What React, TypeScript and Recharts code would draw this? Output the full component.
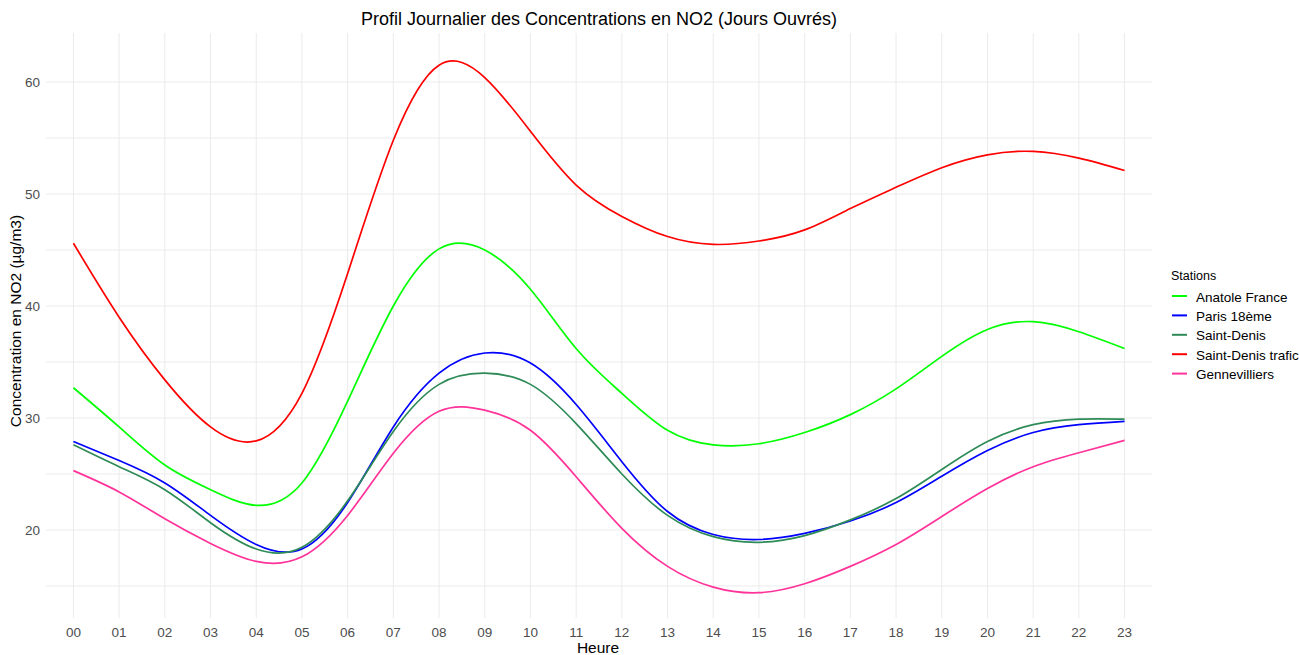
import React from "react";
import { LineChart, Line, XAxis, YAxis, CartesianGrid } from "recharts";

const hourLabels = ["00","01","02","03","04","05","06","07","08","09","10","11","12","13","14","15","16","17","18","19","20","21","22","23"];
const anatoleFrance = [32.7, 29.2, 25.8, 23.6, 22.2, 24.2, 31.5, 40.0, 45.1, 45.0, 41.5, 36.2, 32.2, 28.9, 27.6, 27.7, 28.7, 30.3, 32.6, 35.5, 37.9, 38.6, 37.7, 36.2];
const paris18 = [27.9, 26.2, 24.2, 21.3, 18.7, 18.3, 22.45, 29.2, 34.0, 35.8, 34.9, 31.2, 26.1, 21.65, 19.6, 19.15, 19.7, 20.8, 22.45, 24.8, 27.1, 28.7, 29.4, 29.7];
const saintDenis = [27.6, 25.65, 23.6, 20.65, 18.3, 18.45, 22.6, 28.8, 33.0, 34.0, 33.0, 29.5, 25.0, 21.3, 19.4, 18.9, 19.5, 20.9, 22.8, 25.4, 27.9, 29.4, 29.9, 29.9];
const saintDenisTrafic = [45.6, 39.0, 33.4, 29.2, 27.95, 32.2, 42.9, 54.8, 61.5, 60.4, 55.6, 50.8, 48.0, 46.2, 45.5, 45.8, 46.8, 48.7, 50.6, 52.35, 53.5, 53.8, 53.2, 52.1];
const gennevilliers = [25.3, 23.4, 21.0, 18.8, 17.2, 17.6, 21.3, 26.85, 30.6, 30.7, 28.9, 24.75, 20.15, 16.75, 14.9, 14.4, 15.2, 16.75, 18.7, 21.2, 23.7, 25.65, 26.9, 28.0];

const yTicks = [20, 30, 40, 50, 60];
const yGrid = [15, 20, 25, 30, 35, 40, 45, 50, 55, 60];

const series = [
  { key: "anatole", name: "Anatole France", color: "#00FF00", values: anatoleFrance },
  { key: "paris", name: "Paris 18ème", color: "#0000FF", values: paris18 },
  { key: "sd", name: "Saint-Denis", color: "#2E8B57", values: saintDenis },
  { key: "sdt", name: "Saint-Denis trafic", color: "#FF0000", values: saintDenisTrafic },
  { key: "genn", name: "Gennevilliers", color: "#FF3399", values: gennevilliers },
];

const data = hourLabels.map((_, i) => {
  const row: Record<string, number> = { hour: i };
  series.forEach((s) => { row[s.key] = s.values[i]; });
  return row;
});

const FONT = "'Liberation Sans', Arial, sans-serif";

export default function App() {
  return (
    <div style={{ position: "absolute", left: 0, top: 0, width: 1299, height: 655, background: "#fff", fontFamily: FONT }}>
      <LineChart width={1299} height={655} data={data} margin={{ top: 33, right: 147, bottom: 0, left: 0 }}>
        <CartesianGrid stroke="#EBEBEB" strokeWidth={1} horizontalValues={yGrid} verticalValues={hourLabels.map((_, i) => i)} />
        <XAxis
          dataKey="hour"
          type="number"
          domain={[-0.6, 23.6]}
          ticks={hourLabels.map((_, i) => i)}
          tickFormatter={(v: number) => hourLabels[v]}
          allowDataOverflow
          height={37}
          axisLine={false}
          tickLine={false}
          tickSize={0}
          tickMargin={9}
          interval={0}
          tick={{ fill: "#4D4D4D", fontSize: 13.5, fontFamily: FONT }}
        />
        <YAxis
          type="number"
          domain={[12.14, 64.375]}
          ticks={yTicks}
          allowDataOverflow
          width={46}
          axisLine={false}
          tickLine={false}
          tickSize={0}
          tickMargin={6}
          interval={0}
          tick={{ fill: "#4D4D4D", fontSize: 13.5, fontFamily: FONT }}
        />
        {series.map((s) => (
          <Line
            key={s.key}
            dataKey={s.key}
            name={s.name}
            type="natural"
            stroke={s.color}
            strokeWidth={1.7}
            dot={false}
            activeDot={false}
            isAnimationActive={false}
          />
        ))}
      </LineChart>
      <svg width={1299} height={655} style={{ position: "absolute", left: 0, top: 0, pointerEvents: "none" }}>
        <text x={599} y={25} textAnchor="middle" fontSize={18} fill="#000" fontFamily={FONT}>
          Profil Journalier des Concentrations en NO2 (Jours Ouvrés)
        </text>
        <text x={598} y={652.5} textAnchor="middle" fontSize={15.5} fill="#000" fontFamily={FONT}>
          Heure
        </text>
        <text transform="translate(21,321) rotate(-90)" textAnchor="middle" fontSize={15.5} fill="#000" fontFamily={FONT}>
          Concentration en NO2 (µg/m3)
        </text>
        <text x={1171} y={280} fontSize={12.5} fill="#000" fontFamily={FONT}>Stations</text>
        {series.map((s, i) => {
          const y = 296 + i * 19.4;
          return (
            <g key={s.key}>
              <line x1={1172} x2={1187} y1={y} y2={y} stroke={s.color} strokeWidth={2} />
              <text x={1196} y={y + 5.5} fontSize={13.5} fill="#000" fontFamily={FONT}>{s.name}</text>
            </g>
          );
        })}
      </svg>
    </div>
  );
}
